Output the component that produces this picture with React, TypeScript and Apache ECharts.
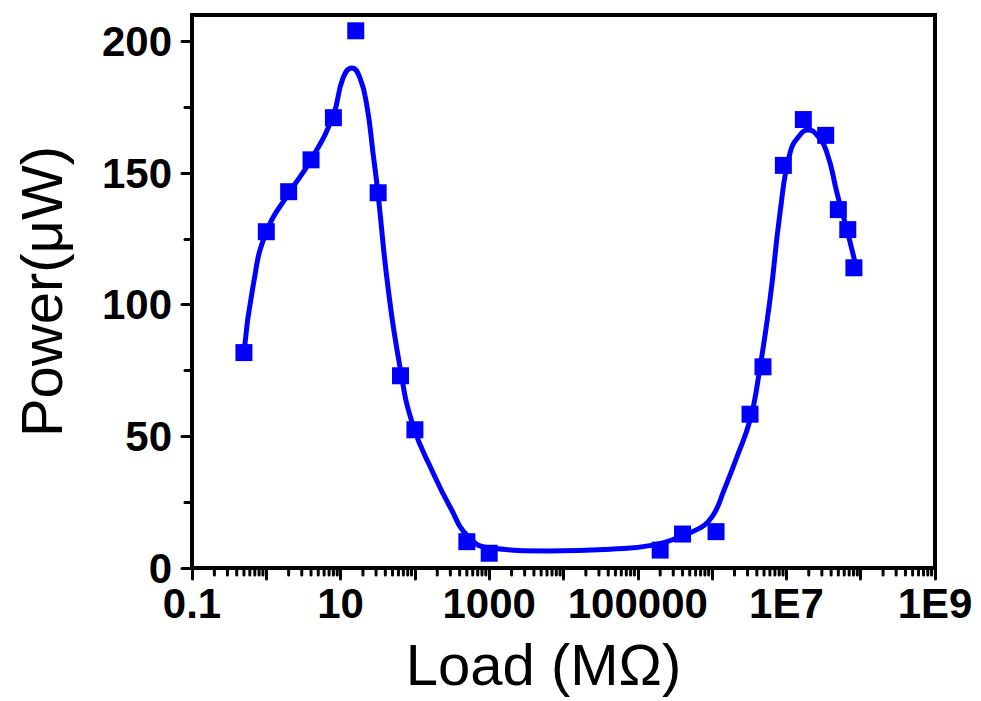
import React, { useEffect, useRef } from "react";
import * as echarts from "echarts";

// Measured data points (Load in MΩ, Power in μW)
const loadValues = [0.5, 1, 2, 4, 8, 16, 32, 64, 100, 500, 1000, 2e5, 4e5, 1.13e6, 3.24e6, 4.84e6, 9.1e6, 1.69e7, 3.38e7, 5.0e7, 6.7e7, 8.1e7];
const powerValues = [81.8, 127.7, 142.9, 155, 171, 204, 142.5, 73, 52.5, 10, 5.6, 6.8, 12.9, 13.8, 58.4, 76.4, 152.9, 170.3, 164.3, 136.1, 128.5, 114];

// Fitted curve
const fitLoad = [0.5, 0.66, 1.0, 2.02, 4.0, 7.9, 10.8, 14.2, 18.2, 22.7, 27.3, 31.8, 43.4, 63, 94, 180, 300, 519, 1026, 6000, 46300, 160000, 370000, 687000, 881000, 1.13e6, 1.4e6, 2.16e6, 3.24e6, 4.15e6, 6.01e6, 8.2e6, 1.12e7, 1.52e7, 1.95e7, 2.58e7, 3.52e7, 4.8e7, 6.53e7, 8.37e7];
const fitPower = [81.7, 106.7, 127.6, 142.4, 155.0, 171.7, 186.1, 189.9, 186.1, 175.1, 157.6, 142.4, 106.7, 76.3, 54.3, 35.5, 23.0, 12.0, 7.6, 6.5, 7.2, 8.7, 11.8, 15.2, 17.5, 22.0, 28.5, 42.2, 56.2, 71.4, 101.8, 134.8, 157.6, 164.4, 166.3, 164.4, 157.6, 142.4, 128.4, 116.2];

// Axis ticks and labels
const xLabelValues = [0.1, 10, 1000, 100000, 1e7, 1e9];
const xLabelTexts = ["0.1", "10", "1000", "100000", "1E7", "1E9"];
const xDecades = [0.1, 1, 10, 100, 1000, 1e4, 1e5, 1e6, 1e7, 1e8];
const xMinorMultipliers = [2, 3, 4, 5, 6, 7, 8, 9];
const yMajorTicks = [0, 50, 100, 150, 200];
const yMinorTicks = [25, 75, 125, 175];

const BLUE = "#0000FF";
const FONT = "'Liberation Sans', Arial, sans-serif";

export default function App() {
  const ref = useRef<HTMLDivElement>(null);

  useEffect(() => {
    document.body.style.margin = "0";
    if (!ref.current) return;
    const chart = echarts.init(ref.current, null, { renderer: "svg" });

    const xMinor: number[][] = [];
    xDecades.forEach((d) => xMinorMultipliers.forEach((m) => xMinor.push([d * m, 0])));

    const tickLine = { color: "#000", width: 3, cap: "round" };

    const option: any = {
      animation: false,
      backgroundColor: "#fff",
      grid: {
        left: 192,
        right: 46,
        top: 15,
        bottom: 133,
        show: true,
        borderColor: "#000",
        borderWidth: 4,
        backgroundColor: "transparent",
      },
      xAxis: {
        type: "log",
        logBase: 10,
        min: 0.1,
        max: 1e9,
        interval: 1,
        name: "Load (MΩ)",
        nameLocation: "middle",
        nameGap: 67,
        nameTextStyle: {
          fontFamily: FONT,
          fontSize: 58,
          color: "#000",
          padding: [0, 40, 0, 0],
        },
        axisLine: { show: true, lineStyle: { color: "#000", width: 4 } },
        axisTick: { show: true, inside: false, length: 11, lineStyle: tickLine },
        minorTick: { show: false },
        splitLine: { show: false },
        axisLabel: {
          margin: 20,
          lineHeight: 30,
          fontFamily: FONT,
          fontSize: 42,
          fontWeight: "bold",
          color: "#000",
          formatter: (v: number) => {
            for (let i = 0; i < xLabelValues.length; i++) {
              if (Math.abs(Math.log10(v) - Math.log10(xLabelValues[i])) < 0.01) return xLabelTexts[i];
            }
            return "";
          },
        },
      },
      yAxis: [
        {
          type: "value",
          min: 0,
          max: 210,
          name: "Power(μW)",
          nameLocation: "middle",
          nameGap: 122,
          nameRotate: 90,
          nameTextStyle: {
            fontFamily: FONT,
            fontSize: 58,
            color: "#000",
          },
          axisLine: { show: true, lineStyle: { color: "#000", width: 4 } },
          axisTick: { show: true, inside: false, length: 10, customValues: yMajorTicks, lineStyle: tickLine },
          splitLine: { show: false },
          axisLabel: {
            customValues: yMajorTicks,
            margin: 20,
            lineHeight: 30,
            fontFamily: FONT,
            fontSize: 42,
            fontWeight: "bold",
            color: "#000",
          },
        },
        {
          type: "value",
          min: 0,
          max: 210,
          position: "left",
          axisLine: { show: false },
          axisTick: { show: true, inside: false, length: 7, customValues: yMinorTicks, lineStyle: tickLine },
          axisLabel: { show: false },
          splitLine: { show: false },
        },
      ],
      series: [
        {
          type: "custom",
          coordinateSystem: "cartesian2d",
          clip: false,
          silent: true,
          data: xMinor,
          renderItem: (_params: any, api: any) => {
            const p = api.coord([api.value(0), 0]);
            return {
              type: "line",
              shape: { x1: p[0], y1: p[1], x2: p[0], y2: p[1] + 7 },
              style: { stroke: "#000", lineWidth: 3, lineCap: "round" },
            };
          },
          z: 1,
        },
        {
          type: "line",
          data: fitLoad.map((x, i) => [x, fitPower[i]]),
          showSymbol: false,
          symbol: "none",
          smooth: 0.5,
          lineStyle: { color: BLUE, width: 5 },
          z: 2,
        },
        {
          type: "scatter",
          data: loadValues.map((x, i) => [x, powerValues[i]]),
          symbol: "rect",
          symbolSize: 17,
          itemStyle: { color: BLUE, opacity: 1 },
          z: 3,
        },
      ],
    };

    chart.setOption(option);
    return () => chart.dispose();
  }, []);

  return <div ref={ref} style={{ width: 981, height: 701 }} />;
}
